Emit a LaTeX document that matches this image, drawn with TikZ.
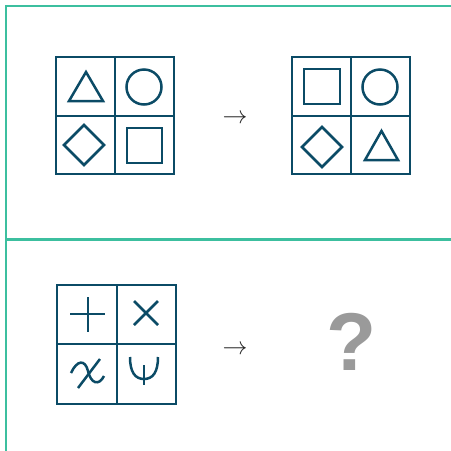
\documentclass[tikz,border=0pt]{standalone}
\usepackage{fontspec}
\newfontfamily\qfont{Liberation Sans}
\definecolor{gridblue}{HTML}{0B4B66}
\definecolor{panelteal}{HTML}{3CBF9F}
\definecolor{qgray}{HTML}{9A9A9A}
\tikzset{
  grid/.style={draw=gridblue, line width=2.8pt},
  glyph/.style={draw=gridblue, line width=2.5pt, line join=miter},
  maparrow/.style={inner sep=0pt, text=black!85},
}
\begin{document}
\begin{tikzpicture}[x=1pt, y=-1pt]
    \useasboundingbox (0, 0) rectangle (451, 451);
    % panel frames
    \draw[panelteal, line width=2pt] (451, 5.5) -- (5.5, 5.5) -- (5.5, 451);
    \draw[panelteal, line width=3pt] (5.5, 239) -- (451, 239);
    % first pair
    \draw[grid] (56, 57) rectangle (174, 174);
    \draw[grid] (115, 57) -- (115, 174) (56, 116) -- (174, 116);
    \draw[glyph] (69, 101) -- (103, 101) -- (86, 72) -- cycle;
    \draw[glyph] (144, 87) circle (17.5);
    \draw[glyph] (84, 125) -- (104, 145) -- (84, 165) -- (64, 145) -- cycle;
    \draw[glyph] (127, 128) rectangle (162, 163);
    \node[maparrow] (toprow) at (235, 119) {\fontsize{33}{33}\selectfont$\rightarrow$};
    \draw[grid] (292, 57) rectangle (410, 174);
    \draw[grid] (351, 57) -- (351, 174) (292, 116) -- (410, 116);
    \draw[glyph] (304, 69) rectangle (340, 104);
    \draw[glyph] (380, 87) circle (17.5);
    \draw[glyph] (322, 127) -- (342, 147) -- (322, 167) -- (302, 147) -- cycle;
    \draw[glyph] (365, 160) -- (398, 160) -- (381.5, 131) -- cycle;
    % second pair
    \draw[grid] (57, 285) rectangle (176, 404);
    \draw[grid] (117, 285) -- (117, 404) (57, 344) -- (176, 344);
    \draw[glyph] (70, 314) -- (105, 314) (88, 297) -- (88, 332);
    \draw[glyph] (134, 301) -- (158, 325) (158, 301) -- (134, 325);
    \draw[glyph] (71, 373) .. controls (77, 360) and (85, 359) .. (88, 371)
      .. controls (91, 384) and (99, 386) .. (104, 376);
    \draw[glyph] (100, 359) -- (78, 388);
    \draw[glyph] (130, 357) .. controls (130, 372) and (135, 379) .. (144, 379)
      .. controls (153, 379) and (158, 372) .. (158, 357);
    \draw[glyph] (144, 365) -- (144, 385);
    \node[maparrow] (botrow) at (235, 350) {\fontsize{33}{33}\selectfont$\rightarrow$};
    \node[inner sep=0pt, text=qgray] (unknown) at (352, 342) {\qfont\bfseries\fontsize{82}{82}\selectfont ?};
  \end{tikzpicture}
\end{document}
